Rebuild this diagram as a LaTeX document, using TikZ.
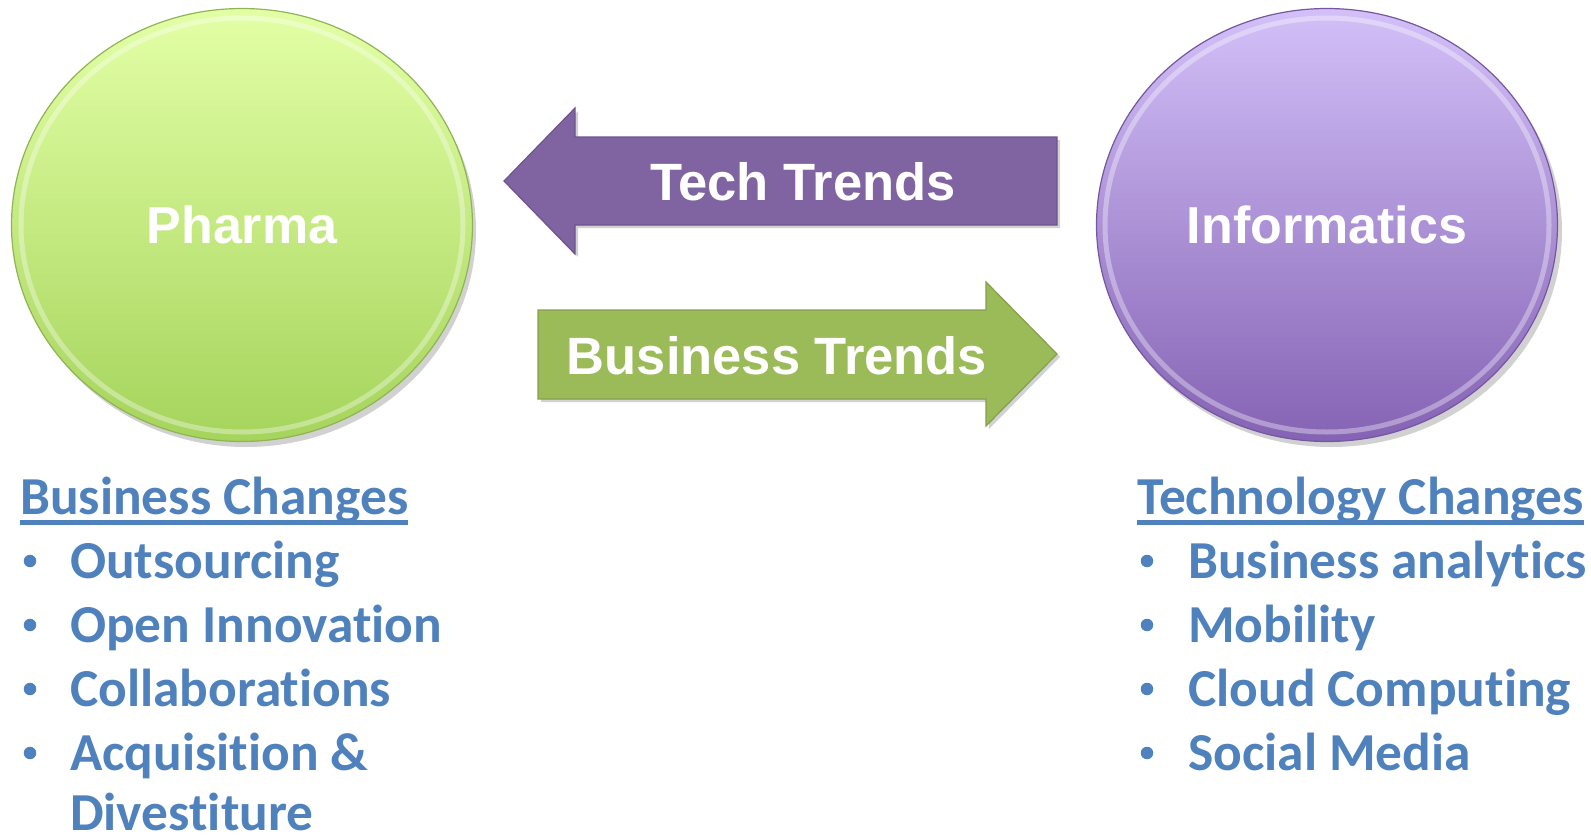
\documentclass[tikz,border=0pt]{standalone}
\usepackage{fontspec}
\setmainfont{Carlito}[Ligatures=NoCommon]
\newfontfamily\arialfont{Liberation Sans}
\usepackage{tikz}
\usetikzlibrary{calc, shapes}

\definecolor{greentop}{HTML}{E3FFA6}
\definecolor{greenbot}{HTML}{A5D45C}
\definecolor{greenrim}{HTML}{8FB452}
\definecolor{purpletop}{HTML}{D3C0F8}
\definecolor{purplebot}{HTML}{8563B4}
\definecolor{purplerim}{HTML}{7457A0}
\definecolor{techfill}{HTML}{8064A2}
\definecolor{bizfill}{HTML}{9BBB59}
\definecolor{listblue}{HTML}{4F81BD}

\begin{document}
\begin{tikzpicture}[x=1pt,y=-1pt]
\tikzstyle{ball}=[ellipse,inner sep=0pt,minimum width=461pt,minimum height=433pt,text=white,font=\arialfont\bfseries\fontsize{52}{62}\selectfont]
\tikzstyle{shade}=[fill=black,opacity=.18]
\tikzstyle{band}=[line width=1.2pt,line join=miter]
\tikzstyle{bandtext}=[anchor=base,inner sep=0pt,text=white,font=\arialfont\bfseries\fontsize{52.5}{62}\selectfont]
\tikzstyle{head}=[anchor=base west,inner sep=0pt,text=listblue,font=\bfseries\fontsize{53.4}{64}\selectfont]
\tikzstyle{item}=[anchor=base west,inner sep=0pt,text=listblue,font=\bfseries\fontsize{53.4}{64}\selectfont]
\tikzstyle{dot}=[circle,inner sep=0pt,minimum size=12.5pt,fill=listblue]
\useasboundingbox (0,0) rectangle (1591,836);

% circles
\fill[shade] (246,231) ellipse [x radius=230, y radius=216];
\fill[shade] (1331,231) ellipse [x radius=231, y radius=216];
\node[ball,top color=greentop,bottom color=greenbot,draw=greenrim,line width=1.2pt] (pharma) at (242,225) {Pharma};
\node[ball,top color=purpletop,bottom color=purplebot,draw=purplerim,line width=1.2pt] (info) at (1327,225) {Informatics};
\draw[white,opacity=.35,line width=5pt] (pharma.center) ellipse [x radius=221, y radius=207];
\draw[white,opacity=.35,line width=5pt] (info.center) ellipse [x radius=222, y radius=207];

% arrows
\coordinate (techtip) at (504,181);
\coordinate (bizend) at (538,354);
\fill[shade] (1060,140) -- (578,140) -- (578,111) -- (507,184) -- (578,257) -- (578,228) -- (1060,228) -- cycle;
\filldraw[band,fill=techfill,draw=techfill!85!black] (1057,137) -- (575,137) -- (575,108) -- (techtip) -- (575,254) -- (575,225) -- (1057,225) -- cycle;
\fill[shade] (541,313) -- (989,313) -- (989,285) -- (1060,357) -- (989,429) -- (989,402) -- (541,402) -- cycle;
\filldraw[band,fill=bizfill,draw=bizfill!85!black] (bizend) ++(0,-44) -- (986,310) -- (986,282) -- (1057,354) -- (986,426) -- (986,399) -- (538,399) -- cycle;
\node[bandtext] (tech) at (803,200) {Tech Trends};
\node[bandtext] (biz) at (777,374) {Business Trends};

% lists
\node[head] (bizchg) at (20,514) {Business Changes};
\draw[listblue,line width=4.5pt] ($(bizchg.base west)+(0,8.5)$) -- ($(bizchg.base east)+(0,8.5)$);
\foreach \txt [count=\i] in {Outsourcing, Open Innovation, Collaborations, Acquisition \&} {
  \node[dot] (bizdot\i) at (30,497+64*\i) {};
  \node[item] (bizitem\i) at (70,514+64*\i) {\txt};
}
\node[item] (bizitem5) at (70,830) {Divestiture};

\node[head] (techchg) at (1137,514) {Technology Changes};
\draw[listblue,line width=4.5pt] ($(techchg.base west)+(0,8.5)$) -- ($(techchg.base east)+(0,8.5)$);
\foreach \txt [count=\i] in {Business analytics, Mobility, Cloud Computing, Social Media} {
  \node[dot] (techdot\i) at (1147,497+64*\i) {};
  \node[item] (techitem\i) at (1188,514+64*\i) {\txt};
}
\end{tikzpicture}
\end{document}
